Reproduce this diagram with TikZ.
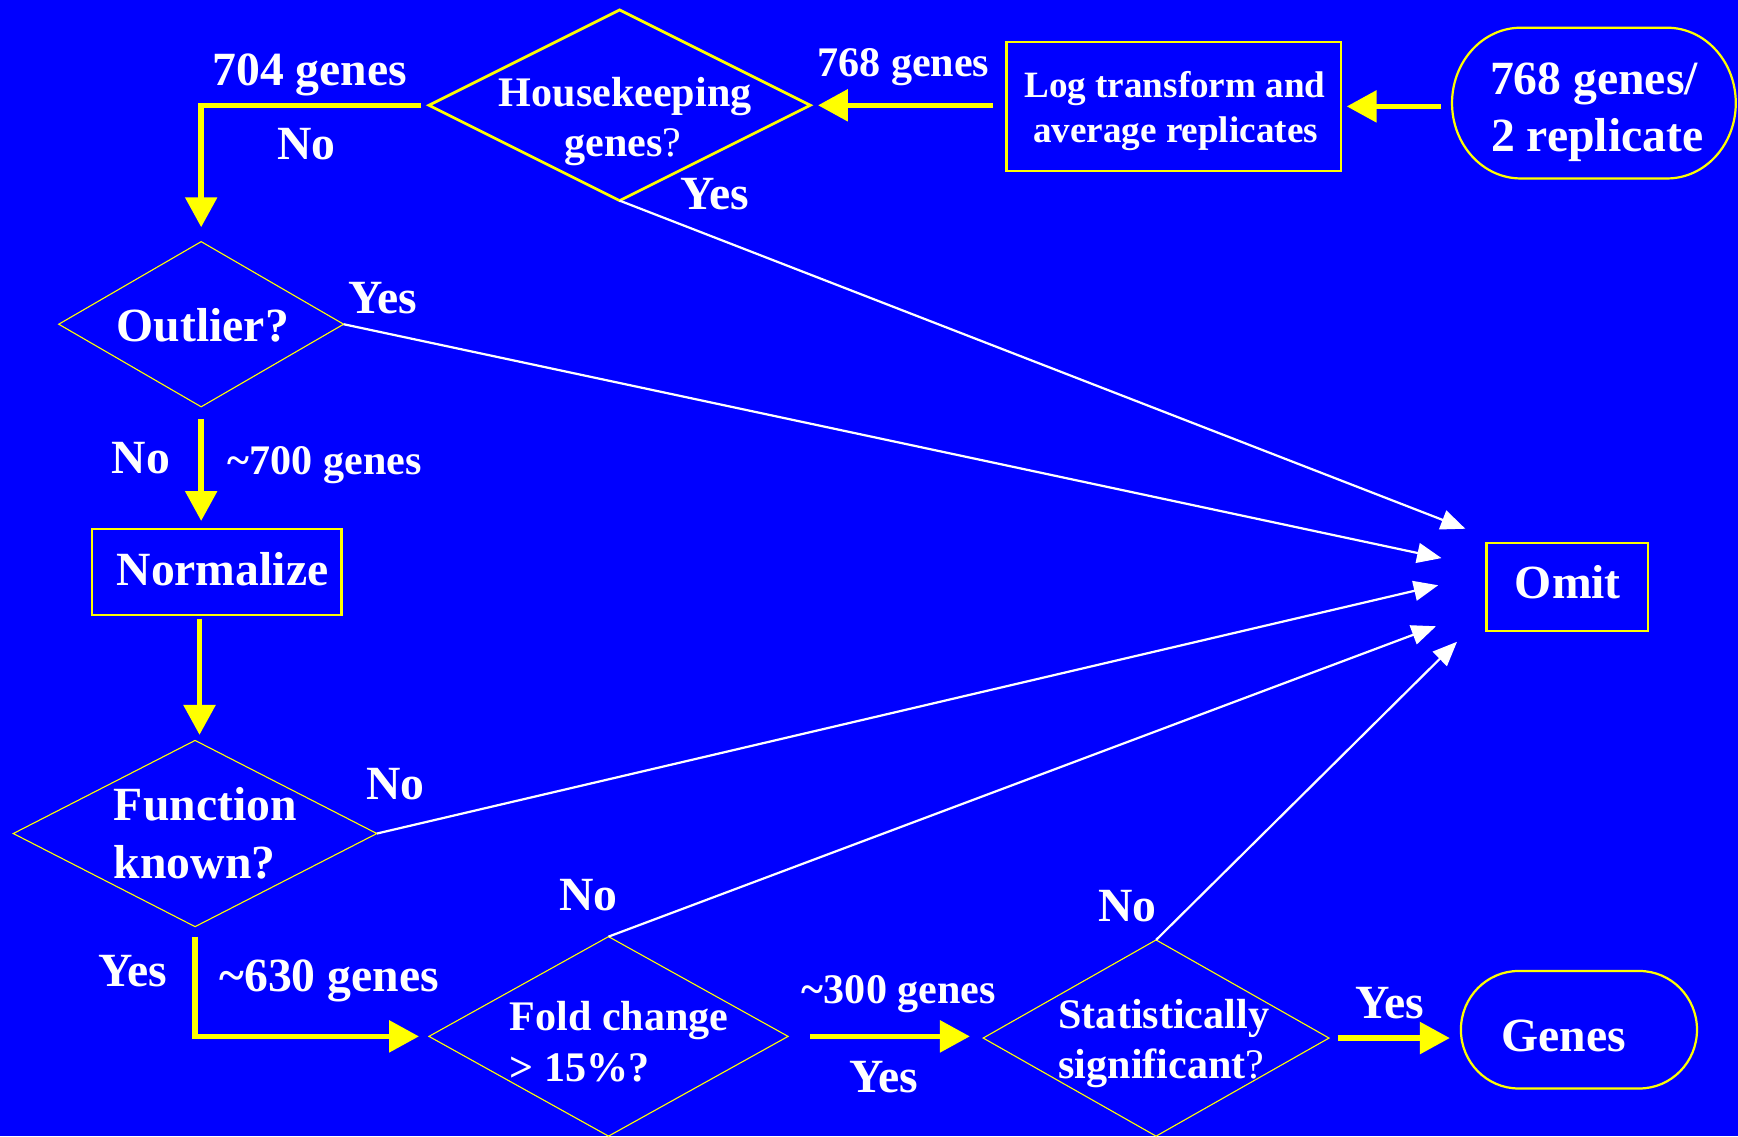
\documentclass[tikz,border=0pt]{standalone}
\usepackage{fontspec}
\setmainfont{Liberation Serif}
\usetikzlibrary{arrows.meta,shapes.geometric}
\definecolor{bg}{RGB}{0,0,255}
\definecolor{yel}{RGB}{255,255,0}
\tikzset{
  lbl/.style={text=white, font=\fontsize{43}{50}\selectfont\bfseries, inner sep=0pt, anchor=base},
  lbls/.style={lbl, font=\fontsize{38}{45}\selectfont\bfseries},
  lblxs/.style={lbl, font=\fontsize{33.5}{40}\selectfont\bfseries},
  dia/.style={draw=yel, diamond, inner sep=0pt, outer sep=0pt, line width=1pt},
  boxnode/.style={draw=yel, rectangle, inner sep=0pt, outer sep=0pt, line width=2pt},
  term/.style={rectangle, inner sep=0pt, outer sep=0pt},
  termline/.style={draw=yel, line width=2pt},
  yarr/.style={draw=yel, line width=5pt, -{Triangle[length=27pt,width=28pt]}},
  warr/.style={draw=white, line width=2pt, -{Triangle[length=22pt,width=18pt]}},
}
\begin{document}
\begin{tikzpicture}[x=1pt,y=-1pt]
\fill[bg] (0,0) rectangle (1568,1025);
\useasboundingbox (0,0) rectangle (1568,1025);

% shapes
\node[term, minimum width=256pt, minimum height=136pt] (rep) at (1438,93) {};
\draw[termline] ([xshift=62pt]rep.north west) -- ([xshift=-62pt]rep.north east)
  arc[start angle=90, end angle=-90, x radius=62pt, y radius=68pt]
  -- ([xshift=62pt]rep.south west)
  arc[start angle=270, end angle=90, x radius=62pt, y radius=68pt] -- cycle;
\node[boxnode, minimum width=302pt, minimum height=116pt] (log) at (1059,96) {};
\node[dia, line width=2.5pt, minimum width=344pt, minimum height=172pt] (hk) at (559,95) {};
\node[dia, minimum width=257pt, minimum height=149pt] (out) at (181.5,292.5) {};
\node[boxnode, minimum width=225pt, minimum height=78pt] (norm) at (195.5,516) {};
\node[dia, minimum width=328pt, minimum height=168pt] (func) at (176,752) {};
\node[dia, minimum width=324pt, minimum height=180pt] (fold) at (549,935) {};
\node[dia, minimum width=312pt, minimum height=177pt] (stat) at (1043,936.5) {};
\node[term, minimum width=213pt, minimum height=106pt] (genes) at (1424.5,929) {};
\draw[termline] ([xshift=52pt]genes.north west) -- ([xshift=-52pt]genes.north east)
  arc[start angle=90, end angle=-90, x radius=52pt, y radius=53pt]
  -- ([xshift=52pt]genes.south west)
  arc[start angle=270, end angle=90, x radius=52pt, y radius=53pt] -- cycle;
\node[boxnode, minimum width=146pt, minimum height=79pt] (omit) at (1414,529.5) {};

% free ends of the white arrows
\coordinate (o1) at (1322,477);
\coordinate (o2) at (1300.5,503.5);
\coordinate (o3) at (1297.5,528);
\coordinate (o4) at (1295.5,565);
\coordinate (o5) at (1314.5,579);

% yellow connectors
\draw[yarr, shorten <=10pt, shorten >=5pt] (rep.west |- log.east) -- (log.east);
\draw[yarr, shorten <=12pt, shorten >=7pt] (log.west |- hk.east) -- (hk.east);
\draw[yarr, shorten <=7pt, shorten >=13pt] (hk.west) -| (out.north);
\draw[yarr, shorten <=11pt, shorten >=7pt] (out.south) -- (out.south |- norm.north);
\draw[yarr, shorten <=3pt, shorten >=5pt] ([xshift=4pt]func.north |- norm.south) -- ([xshift=4pt]func.north);
\draw[yarr, shorten <=9pt, shorten >=9pt] (func.south) |- (fold.west);
\draw[yarr, shorten <=20pt, shorten >=12pt] (fold.east) -- (fold.east -| stat.west);
\draw[yarr, shorten <=8pt, shorten >=10pt] (stat.east) -- (stat.east -| genes.west);

% white connectors
\draw[warr] (hk.south) -- (o1);
\draw[warr] (out.east) -- (o2);
\draw[warr] (func.east) -- (o3);
\draw[warr] (fold.north) -- (o4);
\draw[warr] (stat.north) -- (o5);

% texts
\node[lbl] (rep1) at (1438,85.7) {768 genes/};
\node[lbl] (rep2) at (1441,136.8) {2 replicate};
\node[lblxs] (log1) at (1060,88) {Log transform and};
\node[lblxs] (log2) at (1060.5,128.7) {average replicates};
\node[lbls] (t768) at (815,68.6) {768 genes};
\node[lbls] (hk1) at (564,96) {Housekeeping};
\node[lbls] (hk2) at (562,141) {genes{\mdseries ?}};
\node[lbl] (t704) at (279.4,77) {704 genes};
\node[lbl] (tno1) at (276.6,144) {No};
\node[lbl] (tyes1) at (645,189) {Yes};
\node[lbl] (outl) at (183,308) {Outlier?};
\node[lbl] (tyes2) at (345.5,283) {Yes};
\node[lbl] (tno2) at (127,427) {No};
\node[lbls] (t700) at (293,427.7) {\textasciitilde700 genes};
\node[lbl] (normt) at (200.7,527.8) {Normalize};
\node[lbl, anchor=base west] (func1) at (102.6,740.4) {Function};
\node[lbl, anchor=base west] (func2) at (102.6,793) {known?};
\node[lbl] (tno3) at (357,721) {No};
\node[lbl] (tyes3) at (120,889.6) {Yes};
\node[lbl] (t630) at (297,894.7) {\textasciitilde630 genes};
\node[lbl] (tno4) at (530.7,821) {No};
\node[lbls, anchor=base west] (fold1) at (459.6,929.3) {Fold change};
\node[lbls, anchor=base west] (fold2) at (459.6,975.9) {> 15\%?};
\node[lbls] (t300) at (811,905) {\textasciitilde300 genes};
\node[lbl] (tyes4) at (797,986) {Yes};
\node[lbl] (tno5) at (1017,831.5) {No};
\node[lbls, anchor=base west] (stat1) at (954.8,927.8) {Statistically};
\node[lbls, anchor=base west] (stat2) at (954.8,972.9) {significant{\mdseries ?}};
\node[lbl] (tyes5) at (1254,918.7) {Yes};
\node[lbl] (genest) at (1410.6,948.8) {Genes};
\node[lbl] (omitt) at (1414.5,539.8) {Omit};
\end{tikzpicture}
\end{document}
